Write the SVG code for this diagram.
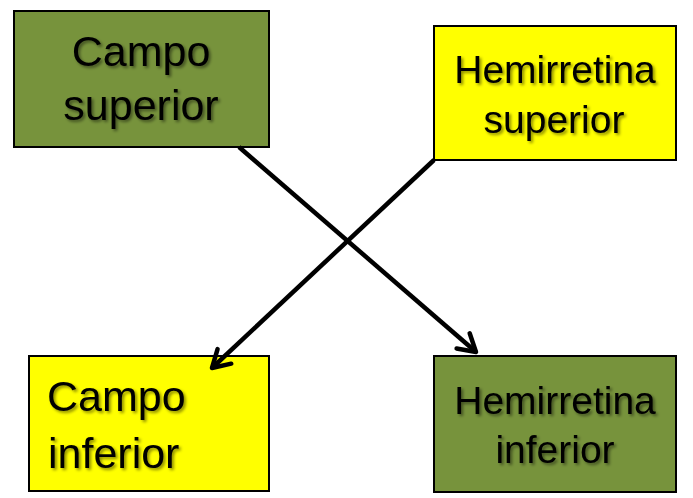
<svg xmlns="http://www.w3.org/2000/svg" width="693" height="498" viewBox="0 0 693 498">
<defs>
<filter id="sh" x="-10%" y="-20%" width="130%" height="150%">
<feDropShadow dx="2" dy="2" stdDeviation="1.5" flood-color="#000" flood-opacity="0.45"/>
</filter>
<marker id="arr" markerUnits="userSpaceOnUse" viewBox="-22 -14 26 28" markerWidth="26" markerHeight="28" refX="0" refY="0" orient="auto" overflow="visible">
<path d="M-17,-10 L0,0 L-17,10" fill="none" stroke="#000" stroke-width="4.5" stroke-linecap="round" stroke-linejoin="round"/>
</marker>
</defs>
<style>
.box{stroke:#000;stroke-width:2}
.green{fill:#77933C}
.yellow{fill:#FFFF00}
.t{font-family:"Liberation Sans",Arial,sans-serif;fill:#000;filter:url(#sh)}
.big{font-size:43px}
.med{font-size:39px}
.conn{stroke:#000;stroke-width:4.5;fill:none}
</style>
<rect width="693" height="498" fill="#fff"/>
<g id="campo-superior">
<rect class="box green" x="14" y="11" width="255" height="136"/>
<text class="t big" x="141" y="66" text-anchor="middle">Campo</text>
<text class="t big" x="141" y="120" text-anchor="middle">superior</text>
</g>
<g id="hemirretina-superior">
<rect class="box yellow" x="434" y="26" width="242" height="134"/>
<text class="t med" x="555" y="83" text-anchor="middle">Hemirretina</text>
<text class="t med" x="554" y="133" text-anchor="middle">superior</text>
</g>
<g id="campo-inferior">
<rect class="box yellow" x="29" y="356" width="240" height="135"/>
<text class="t big" x="47" y="411">Campo</text>
<text class="t big" x="48" y="468">inferior</text>
</g>
<g id="hemirretina-inferior">
<rect class="box green" x="434" y="356" width="242" height="136"/>
<text class="t med" x="555" y="414" text-anchor="middle">Hemirretina</text>
<text class="t med" x="555" y="463" text-anchor="middle">inferior</text>
</g>
<g id="connectors">
<line class="conn" x1="239" y1="147" x2="476" y2="352" marker-end="url(#arr)"/>
<line class="conn" x1="434" y1="160" x2="212" y2="368" marker-end="url(#arr)"/>
</g>
</svg>
